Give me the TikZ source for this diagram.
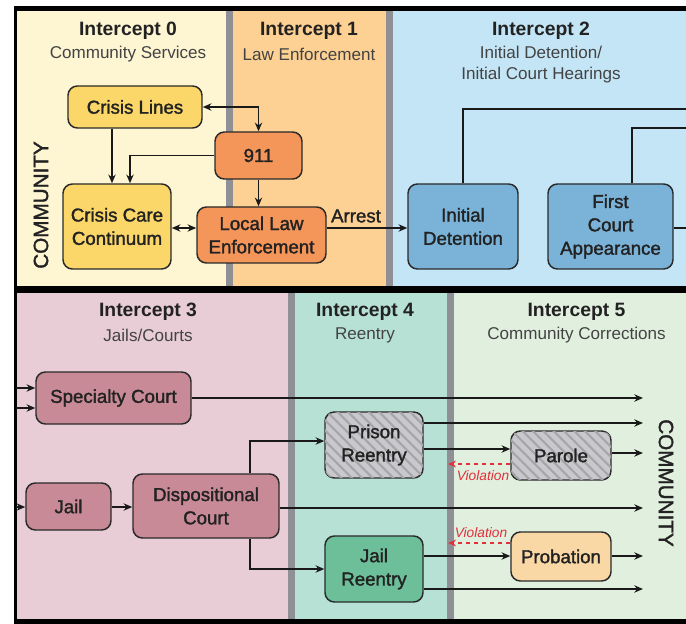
\documentclass[tikz,border=0pt]{standalone}
\usepackage{fontspec}
\setmainfont{Liberation Sans}
\newfontfamily\medfont[FakeBold=1.6]{Liberation Sans}
\usetikzlibrary{arrows.meta,patterns.meta,calc}
\newdimen\px \px=0.75pt
\definecolor{cA}{HTML}{FEF5D3}
\definecolor{cB}{HTML}{FDD193}
\definecolor{cC}{HTML}{C4E5F6}
\definecolor{cD}{HTML}{E8CDD6}
\definecolor{cE}{HTML}{B7E1D4}
\definecolor{cF}{HTML}{E1F0DE}
\definecolor{sepc}{HTML}{8E9095}
\definecolor{yelbox}{HTML}{FBD668}
\definecolor{orabox}{HTML}{F4955A}
\definecolor{blubox}{HTML}{7AB3D7}
\definecolor{maubox}{HTML}{C88A96}
\definecolor{graybox}{HTML}{C9C9CD}
\definecolor{hatchc}{HTML}{A6A6AA}
\definecolor{grnbox}{HTML}{6DBF9A}
\definecolor{probbox}{HTML}{F9D8A6}
\definecolor{boxline}{HTML}{2A2A2A}
\definecolor{violc}{HTML}{E0303A}
\definecolor{txtc}{HTML}{222222}
\begin{document}
\begin{tikzpicture}[x=0.75pt,y=-0.75pt,
  box/.style={draw=boxline, line width=1.1pt, rounded corners=7pt, align=center,
    inner sep=0pt, text=txtc, font=\medfont\fontsize{14}{17.5}\selectfont},
  hatchbox/.style={box, fill=graybox,
    postaction={pattern={Lines[angle=-45,distance=5.5pt,line width=1.6pt]}, pattern color=hatchc}},
  ttl/.style={font=\bfseries\fontsize{14.5}{17}\selectfont, text=txtc, inner sep=0pt},
  sub/.style={font=\fontsize{12.8}{15.75}\selectfont, text=txtc!85!white, align=center, inner sep=0pt},
  comm/.style={font=\medfont\fontsize{15.5}{18}\selectfont, text=txtc, inner sep=0pt},
  lbl/.style={font=\medfont\fontsize{14}{17}\selectfont, text=txtc, inner sep=0pt},
  vlbl/.style={font=\itshape\fontsize{10.3}{12}\selectfont, text=violc, inner sep=0pt},
  conn/.style={line width=1.05pt, draw=black!90},
  arr/.style={conn, -{Stealth[length=6.5pt,width=5.5pt]}},
  dbl/.style={conn, {Stealth[length=6.5pt,width=5.5pt]}-{Stealth[length=6.5pt,width=5.5pt]}},
  viol/.style={line width=1pt, draw=violc, dashed, dash pattern=on 3.5pt off 2.5pt, -{Stealth[length=6pt,width=5pt]}}
]
\useasboundingbox (0,0) rectangle (686,624);
\fill[white] (0,0) rectangle (686,624);
\fill[black] (14,6) rectangle (686,624);
% top panels
\fill[cA] (17,11) rectangle (226,286);
\fill[sepc] (226,11) rectangle (233,286);
\fill[cB] (233,11) rectangle (386,286);
\fill[sepc] (386,11) rectangle (393,286);
\fill[cC] (393,11) rectangle (686,286);
% bottom panels
\fill[cD] (17,293) rectangle (288,619);
\fill[sepc] (288,293) rectangle (295,619);
\fill[cE] (295,293) rectangle (447,619);
\fill[sepc] (447,293) rectangle (454,619);
\fill[cF] (454,293) rectangle (686,619);

% headers
\node[ttl] (t0) at (128,31) {Intercept 0};
\node[sub] (s0) at (128,54) {Community Services};
\node[ttl] (t1) at (309,31) {Intercept 1};
\node[sub] (s1) at (309,54) {Law Enforcement};
\node[ttl] (t2) at (541,31) {Intercept 2};
\node[sub] (s2) at (541,64.5) {Initial Detention/\\Initial Court Hearings};
\node[ttl] (t3) at (148,312) {Intercept 3};
\node[sub] (s3) at (148,335) {Jails/Courts};
\node[ttl] (t4) at (365,312) {Intercept 4};
\node[sub] (s4) at (365,335) {Reentry};
\node[ttl] (t5) at (576.5,312) {Intercept 5};
\node[sub] (s5) at (576.5,335) {Community Corrections};

\node[comm, rotate=90] (cL) at (41,205) {COMMUNITY};
\node[comm, rotate=-90] (cR) at (666,483) {COMMUNITY};

% top nodes
\node[box, fill=yelbox, minimum width=134\px, minimum height=42\px] (cl) at (135,107) {Crisis Lines};
\node[box, fill=orabox, minimum width=87\px, minimum height=47\px] (n911) at (258.5,155.5) {911};
\node[box, fill=yelbox, minimum width=108\px, minimum height=85\px] (ccc) at (117,226.5) {Crisis Care\\Continuum};
\node[box, fill=orabox, minimum width=129\px, minimum height=56\px] (lle) at (261.5,235) {Local Law\\Enforcement};
\node[box, fill=blubox, minimum width=110\px, minimum height=85\px] (idt) at (463,226.5) {Initial\\Detention};
\node[box, fill=blubox, minimum width=125\px, minimum height=85\px] (fca) at (610.5,226.5) {First\\Court\\Appearance};

% bottom nodes
\node[box, fill=maubox, minimum width=155\px, minimum height=52\px] (sc) at (113.5,398) {Specialty Court};
\node[box, fill=maubox, minimum width=85\px, minimum height=47\px] (jail) at (68.5,506.5) {Jail};
\node[box, fill=maubox, minimum width=146\px, minimum height=64\px] (dc) at (206,506) {Dispositional\\Court};
\node[hatchbox, minimum width=98\px, minimum height=66\px] (pr) at (374,445) {Prison\\Reentry};
\node[box, fill=grnbox, minimum width=98\px, minimum height=66\px] (jr) at (374,569) {Jail\\Reentry};
\node[hatchbox, minimum width=100\px, minimum height=49\px] (par) at (561,455.5) {Parole};
\node[box, fill=probbox, minimum width=100\px, minimum height=49\px] (prob) at (561,556.5) {Probation};

% free ends
\coordinate (x1) at (686,109);
\coordinate (x2) at (686,128);
\coordinate (x3) at (686,228);
\coordinate (in1) at (16,388);
\coordinate (in2) at (16,408);
\coordinate (in3) at (16,507);
\coordinate (o1) at (643,398);
\coordinate (o2) at (643,423);
\coordinate (o3) at (643,453);
\coordinate (o4) at (643,508);
\coordinate (o5) at (643,556);
\coordinate (o6) at (643,589);
\coordinate (v1) at (448,464);
\coordinate (v2) at (448,543);

% top connectors
\draw[dbl] (cl.east) -| (n911.north);
\draw[arr] (112,0 |- cl.south) -- (112,0 |- ccc.north);
\draw[arr] (n911.west) -| (130,0 |- ccc.north);
\draw[arr] (n911.south) -- (n911.south |- lle.north);
\draw[dbl] (ccc.east |- 0,228) -- (lle.west |- 0,228);
\draw[arr] (lle.east |- 0,228) -- (idt.west |- 0,228);
\node[lbl] (arrest) at (356,216) {Arrest};
\draw[conn] (idt.north) -- (idt.north |- x1) -- (x1);
\draw[conn] (632,0 |- fca.north) |- (x2);
\draw[conn] (fca.east |- x3) -- (x3);

% bottom connectors
\draw[arr] (in1) -- (sc.west |- in1);
\draw[arr] (in2) -- (sc.west |- in2);
\draw[arr] (in3) -- (jail.west |- in3);
\draw[arr] (jail.east |- 0,507) -- (dc.west |- 0,507);
\draw[arr] (250,0 |- dc.north) |- (pr.west |- 0,441);
\draw[arr] (250,0 |- dc.south) |- (jr.west);
\draw[arr] (sc.east |- o1) -- (o1);
\draw[arr] (dc.east |- o4) -- (o4);
\draw[arr] (pr.east |- o2) -- (o2);
\draw[arr] (pr.east |- 0,449) -- (par.west |- 0,449);
\draw[arr] (par.east |- o3) -- (o3);
\draw[viol] (par.west |- v1) -- (v1);
\node[vlbl] (vl1) at (483,476) {Violation};
\draw[arr] (jr.east |- 0,556) -- (prob.west |- 0,556);
\draw[viol] (prob.west |- v2) -- (v2);
\node[vlbl] (vl2) at (481,533) {Violation};
\draw[arr] (prob.east |- o5) -- (o5);
\draw[arr] (jr.east |- o6) -- (o6);
\end{tikzpicture}
\end{document}
